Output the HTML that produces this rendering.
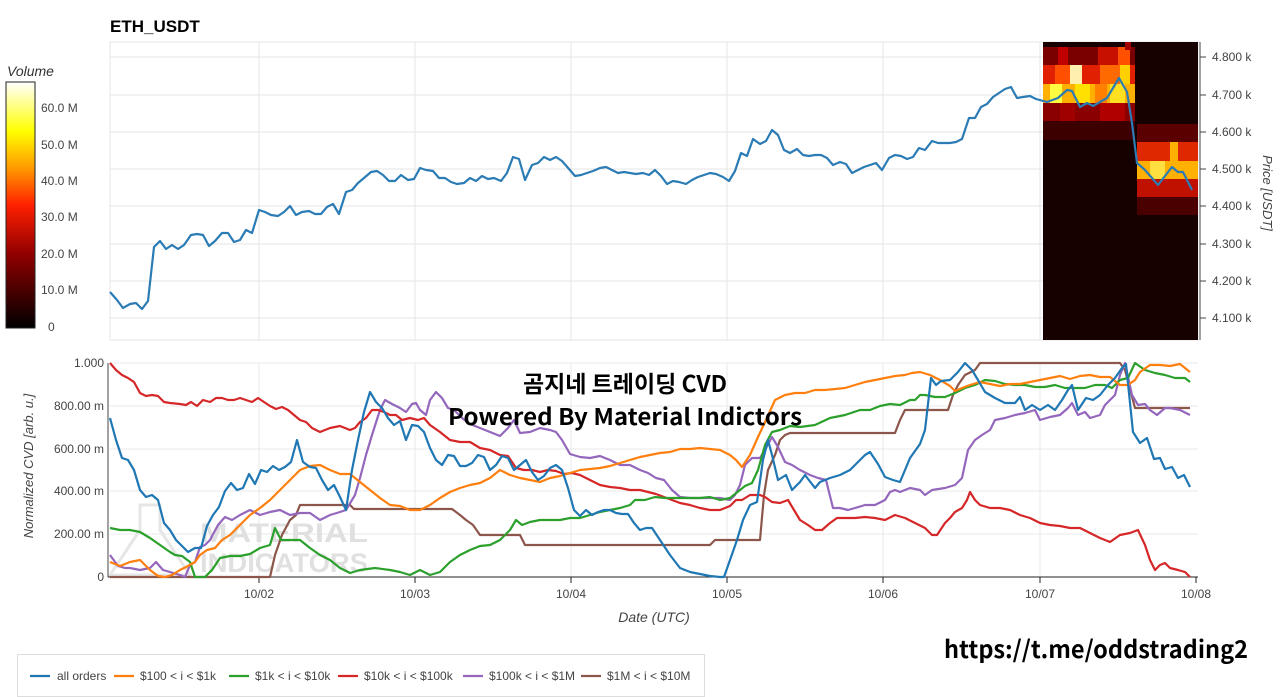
<!DOCTYPE html>
<html><head><meta charset="utf-8"><style>
html,body{margin:0;padding:0;background:#fff;}
svg{display:block;font-family:"Liberation Sans",Arial,sans-serif;}
</style></head><body>
<svg width="1280" height="697" viewBox="0 0 1280 697" xmlns="http://www.w3.org/2000/svg">
<defs>
<linearGradient id="cb" x1="0" y1="1" x2="0" y2="0">
<stop offset="0" stop-color="#000"/><stop offset="0.3" stop-color="#900000"/><stop offset="0.5" stop-color="#ff2000"/><stop offset="0.65" stop-color="#ff9a00"/><stop offset="0.8" stop-color="#ffff00"/><stop offset="1" stop-color="#ffffff"/>
</linearGradient>
</defs>
<text x="110" y="32" font-size="17" font-weight="bold">ETH_USDT</text>
<rect x="110" y="42" width="1088" height="298" fill="#fff" stroke="#e6e6e6"/>
<g stroke="#e6e6e6" stroke-width="1">
<line x1="110" y1="57" x2="1198" y2="57"/><line x1="110" y1="95" x2="1198" y2="95"/><line x1="110" y1="132" x2="1198" y2="132"/><line x1="110" y1="169" x2="1198" y2="169"/><line x1="110" y1="206" x2="1198" y2="206"/><line x1="110" y1="244" x2="1198" y2="244"/><line x1="110" y1="281" x2="1198" y2="281"/><line x1="110" y1="318" x2="1198" y2="318"/>
<line x1="259" y1="42" x2="259" y2="340"/><line x1="415" y1="42" x2="415" y2="340"/><line x1="571" y1="42" x2="571" y2="340"/><line x1="727" y1="42" x2="727" y2="340"/><line x1="883" y1="42" x2="883" y2="340"/><line x1="1040" y1="42" x2="1040" y2="340"/>
</g>
<rect x="1043" y="42" width="155" height="298" fill="#160000"/>
<rect x="1043" y="47" width="92" height="18" fill="#7a0000"/>
<rect x="1058" y="47" width="10" height="18" fill="#c00000"/><rect x="1098" y="47" width="20" height="18" fill="#c81000"/><rect x="1118" y="47" width="12" height="18" fill="#ff5000"/><rect x="1125" y="42" width="6" height="8" fill="#a00000"/>
<rect x="1043" y="65" width="92" height="19" fill="#e02000"/>
<rect x="1055" y="65" width="15" height="19" fill="#ff5000"/><rect x="1070" y="65" width="12" height="19" fill="#fff0b0"/><rect x="1100" y="65" width="20" height="19" fill="#ff6a00"/><rect x="1120" y="65" width="10" height="19" fill="#ffd000"/>
<rect x="1043" y="84" width="92" height="19" fill="#ffb000"/>
<rect x="1050" y="84" width="12" height="19" fill="#ffff40"/><rect x="1075" y="84" width="15" height="19" fill="#ffe000"/><rect x="1095" y="84" width="12" height="19" fill="#ff8000"/><rect x="1110" y="84" width="15" height="19" fill="#ffe020"/>
<rect x="1043" y="103" width="92" height="18" fill="#8a0000"/><rect x="1060" y="103" width="15" height="18" fill="#a00000"/><rect x="1100" y="103" width="25" height="18" fill="#b00000"/>
<rect x="1043" y="121" width="92" height="19" fill="#3c0000"/>
<rect x="1137" y="124" width="61" height="18" fill="#5a0000"/>
<rect x="1137" y="142" width="61" height="19" fill="#e02800"/><rect x="1170" y="142" width="8" height="19" fill="#ffb000"/>
<rect x="1137" y="161" width="61" height="18" fill="#ffb000"/><rect x="1150" y="161" width="15" height="18" fill="#ffe040"/>
<rect x="1137" y="179" width="61" height="18" fill="#c01000"/>
<rect x="1137" y="197" width="61" height="18" fill="#4a0000"/>
<polyline fill="none" stroke="#2b7bb4" stroke-width="2.2" stroke-linejoin="round" points="110,292 117,300 123,308 130,304 136,303 142,309 148,301 154,247 160,241 166,249 172,245 178,249 184,245 191,235 197,234 203,235 209,246 215,241 222,233 228,233 234,242 240,240 246,230 252,233 259,210 265,212 271,215 278,216 284,212 290,206 296,215 302,212 309,211 315,214 321,214 327,207 333,204 339,214 346,192 352,190 358,183 364,178 371,172 377,171 383,175 389,181 395,181 401,175 408,180 414,179 420,168 426,170 433,171 439,178 445,178 451,182 457,184 464,183 470,178 476,181 482,176 488,179 494,178 501,181 507,173 513,157 519,159 525,180 532,165 538,163 544,157 550,160 556,157 562,161 569,169 575,176 581,175 587,173 593,171 600,168 606,167 612,170 618,173 624,172 630,173 636,174 643,173 649,175 655,170 661,176 667,184 673,181 679,182 686,184 692,180 698,177 704,175 710,173 716,174 723,177 729,181 735,171 741,153 747,156 753,139 760,144 766,141 772,130 778,135 784,150 790,153 797,149 803,155 809,156 815,155 821,155 827,158 833,165 840,162 846,164 852,173 858,170 864,167 870,165 876,163 882,170 889,158 895,155 901,156 907,159 913,157 919,148 925,150 932,141 938,143 944,143 950,143 956,142 962,139 969,118 975,118 981,107 987,104 993,97 999,93 1005,89 1011,87 1017,98 1023,97 1030,96 1036,99 1047,102 1058,98 1067,90 1072,91 1080,107 1087,103 1093,106 1107,98 1119,78 1127,92 1132,123 1137,163 1145,170 1158,185 1172,167 1178,172 1183,172 1192,190"/>
<line x1="1200" y1="42" x2="1200" y2="340" stroke="#444"/>
<g font-size="12" fill="#444">
<text x="1212" y="61">4.800 k</text><text x="1212" y="99">4.700 k</text><text x="1212" y="136">4.600 k</text><text x="1212" y="173">4.500 k</text><text x="1212" y="210">4.400 k</text><text x="1212" y="248">4.300 k</text><text x="1212" y="285">4.200 k</text><text x="1212" y="322">4.100 k</text>
</g>
<g stroke="#444"><line x1="1200" y1="57" x2="1206" y2="57"/><line x1="1200" y1="95" x2="1206" y2="95"/><line x1="1200" y1="132" x2="1206" y2="132"/><line x1="1200" y1="169" x2="1206" y2="169"/><line x1="1200" y1="206" x2="1206" y2="206"/><line x1="1200" y1="244" x2="1206" y2="244"/><line x1="1200" y1="281" x2="1206" y2="281"/><line x1="1200" y1="318" x2="1206" y2="318"/></g>
<text transform="translate(1263,193) rotate(90)" font-size="13" font-style="italic" fill="#444" text-anchor="middle">Price [USDT]</text>
<text x="7" y="76" font-size="14" font-style="italic" fill="#333">Volume</text>
<rect x="6" y="82" width="29" height="246" fill="url(#cb)" stroke="#222"/>
<g font-size="12" fill="#444"><text x="41" y="112">60.0 M</text><text x="41" y="149">50.0 M</text><text x="41" y="185">40.0 M</text><text x="41" y="221">30.0 M</text><text x="41" y="258">20.0 M</text><text x="41" y="294">10.0 M</text><text x="48" y="331">0</text></g>
<g stroke="#e8e8e8"><line x1="110" y1="363" x2="1198" y2="363"/><line x1="110" y1="406" x2="1198" y2="406"/><line x1="110" y1="449" x2="1198" y2="449"/><line x1="110" y1="491" x2="1198" y2="491"/><line x1="110" y1="534" x2="1198" y2="534"/>
<line x1="259" y1="363" x2="259" y2="577"/><line x1="415" y1="363" x2="415" y2="577"/><line x1="571" y1="363" x2="571" y2="577"/><line x1="727" y1="363" x2="727" y2="577"/><line x1="883" y1="363" x2="883" y2="577"/><line x1="1040" y1="363" x2="1040" y2="577"/></g>
<text x="200" y="542" font-size="27" font-weight="bold" fill="#e0e0e0" textLength="168" lengthAdjust="spacingAndGlyphs">MATERIAL</text>
<text x="200" y="572" font-size="27" font-weight="bold" fill="#e0e0e0" textLength="168" lengthAdjust="spacingAndGlyphs">INDICATORS</text>
<path d="M140,505 L160,505 L160,530 L190,575 L110,575 L140,530 Z" fill="none" stroke="#e6e6e6" stroke-width="3"/>
<line x1="108" y1="577" x2="1198" y2="577" stroke="#222"/>
<line x1="108" y1="363" x2="108" y2="577" stroke="#444"/>
<g stroke="#222"><line x1="259" y1="577" x2="259" y2="583"/><line x1="415" y1="577" x2="415" y2="583"/><line x1="571" y1="577" x2="571" y2="583"/><line x1="727" y1="577" x2="727" y2="583"/><line x1="883" y1="577" x2="883" y2="583"/><line x1="1040" y1="577" x2="1040" y2="583"/><line x1="1196" y1="577" x2="1196" y2="583"/></g>
<g font-size="12" fill="#444" text-anchor="end"><text x="104" y="367">1.000</text><text x="104" y="410">800.00 m</text><text x="104" y="453">600.00 m</text><text x="104" y="495">400.00 m</text><text x="104" y="538">200.00 m</text><text x="104" y="581">0</text></g>
<g font-size="12" fill="#444" text-anchor="middle"><text x="259" y="598">10/02</text><text x="415" y="598">10/03</text><text x="571" y="598">10/04</text><text x="727" y="598">10/05</text><text x="883" y="598">10/06</text><text x="1040" y="598">10/07</text><text x="1196" y="598">10/08</text></g>
<text x="654" y="622" font-size="14" font-style="italic" fill="#444" text-anchor="middle">Date (UTC)</text>
<text transform="translate(33,466) rotate(-90)" font-size="13" font-style="italic" fill="#444" text-anchor="middle">Normalized CVD [arb. u.]</text>
<g fill="none" stroke-width="2.2" stroke-linejoin="round">
<polyline stroke="#8c564b" points="110,577 270,577 275,555 282,535 290,520 296,515 300,505 350,505 354,509 452,509 460,515 466,520 473,525 480,535 520,535 525,545 710,545 715,540 760,540 764,495 768,470 775,455 780,440 785,435 790,433 895,433 900,420 905,410 948,410 953,395 958,385 965,375 975,370 980,363 1120,363 1125,370 1135,408 1190,408"/>
<polyline stroke="#9467bd" points="110,555 118,566 125,568 130,568 140,570 150,568 156,562 163,570 170,572 180,575 185,577 190,565 195,562 200,547 205,545 210,540 218,525 225,517 232,520 240,515 250,510 260,515 270,512 280,510 290,515 300,513 310,513 320,520 330,515 340,512 346,510 355,495 360,478 366,455 372,435 380,410 385,400 392,404 400,408 406,412 412,404 416,403 420,410 426,415 430,400 436,392 442,398 448,408 454,410 462,418 470,424 480,428 490,432 500,436 508,428 514,420 520,433 530,432 540,428 550,430 556,432 562,440 570,454 580,457 590,458 600,456 610,460 620,465 630,465 640,470 648,473 656,478 664,480 672,490 680,497 690,498 700,498 710,498 720,498 730,500 735,495 740,485 745,465 752,458 760,458 766,448 772,437 778,447 785,462 792,465 800,470 810,475 818,478 826,480 833,508 840,508 848,510 855,508 865,505 875,505 885,500 890,492 895,490 900,492 910,488 920,490 925,495 932,490 945,488 955,485 962,478 968,450 975,440 982,435 990,430 995,420 1005,418 1015,415 1025,413 1035,410 1040,420 1050,417 1060,415 1068,408 1072,403 1078,415 1085,412 1090,418 1100,415 1105,405 1115,395 1120,375 1125,363 1132,395 1138,405 1145,404 1150,410 1157,415 1165,408 1170,408 1180,410 1190,415"/>
<polyline stroke="#d62728" points="110,363 116,370 122,375 128,378 134,382 140,393 146,396 152,395 158,396 164,402 170,403 180,404 186,405 191,402 197,406 203,400 210,402 216,398 222,398 228,400 234,400 240,398 246,400 252,402 258,398 264,402 270,406 276,409 282,407 288,410 294,415 300,420 306,422 312,428 320,432 330,428 340,426 345,428 350,430 355,428 360,422 366,418 372,410 378,410 384,412 390,415 396,415 402,420 410,418 418,420 424,418 430,425 440,432 450,440 460,442 470,442 480,448 490,450 500,455 508,456 516,468 524,470 532,470 540,472 548,470 556,471 564,474 572,473 580,475 590,480 600,485 610,487 620,488 630,490 640,490 648,492 656,494 664,497 672,500 680,503 690,505 700,508 710,510 720,510 730,506 736,500 742,500 750,495 760,495 765,497 772,502 780,503 788,500 794,510 800,520 808,525 815,530 822,530 830,523 837,518 846,518 855,518 865,517 875,518 885,520 895,515 905,518 915,523 925,528 932,535 937,535 945,523 950,518 955,512 962,508 967,500 970,492 975,500 980,505 990,508 1000,508 1010,510 1020,515 1030,518 1040,523 1050,525 1060,526 1070,528 1080,528 1090,533 1100,538 1110,542 1120,535 1130,533 1138,530 1145,545 1150,560 1155,570 1160,565 1165,563 1170,568 1178,570 1185,572 1190,577"/>
<polyline stroke="#2ca02c" points="110,528 120,530 130,530 140,532 150,538 160,545 170,552 175,555 182,556 190,562 195,577 205,577 212,570 220,558 230,556 240,556 250,554 260,548 270,545 275,528 281,540 290,540 300,540 310,548 320,555 330,560 340,568 350,573 360,570 375,568 390,570 400,572 410,575 420,570 430,575 440,572 450,562 460,555 470,550 480,546 490,545 500,540 510,530 516,520 522,525 530,522 540,520 550,520 560,520 570,518 580,518 590,515 600,512 610,510 620,508 630,505 635,500 645,500 655,497 665,498 675,498 690,498 700,498 710,497 720,500 730,498 740,490 745,486 752,483 758,470 765,445 772,432 780,430 790,426 800,427 815,425 830,418 845,415 860,410 870,410 880,406 890,404 900,405 910,400 915,400 920,395 925,395 935,397 945,397 955,393 965,388 975,385 985,380 995,381 1005,384 1015,385 1025,385 1035,387 1045,387 1055,385 1065,388 1075,388 1085,388 1095,385 1105,385 1112,388 1120,380 1128,378 1135,363 1145,370 1155,373 1165,375 1175,378 1185,378 1190,382"/>
<polyline stroke="#ff7f0e" points="110,562 120,566 130,562 140,560 150,570 158,576 165,577 172,575 180,570 188,566 195,562 200,555 207,550 215,548 222,540 230,535 240,525 250,515 260,508 270,500 280,490 290,480 300,470 310,466 320,465 330,470 340,474 350,474 360,482 370,490 380,498 390,505 400,506 410,510 420,510 430,505 440,498 450,492 460,488 470,485 480,483 490,478 500,470 510,475 520,478 530,480 540,482 550,478 560,476 570,473 580,470 590,469 600,468 610,466 620,463 630,460 640,457 650,455 660,453 670,452 680,449 690,449 700,448 710,449 720,450 730,455 736,460 742,467 750,455 758,437 766,420 775,400 785,395 795,393 805,393 815,390 825,390 835,389 845,388 855,385 865,382 875,380 885,378 895,376 905,375 912,373 920,372 930,375 940,380 950,386 955,391 962,388 970,385 980,382 990,384 1000,386 1010,384 1020,384 1030,382 1040,380 1050,378 1060,376 1070,379 1080,376 1090,375 1100,377 1110,377 1120,385 1128,385 1135,380 1140,372 1150,365 1160,365 1170,366 1180,364 1190,372"/>
<polyline stroke="#1f77b4" points="110,418 116,440 122,458 128,460 134,470 140,490 146,497 152,495 158,500 164,523 170,530 176,540 182,546 188,552 195,548 201,548 207,526 213,515 219,507 225,491 231,483 237,490 243,488 249,474 255,484 261,470 267,472 273,466 279,470 285,467 291,462 297,440 303,462 310,467 316,468 322,480 328,490 334,485 340,497 346,510 352,470 358,440 364,412 370,392 376,402 382,408 388,418 394,425 400,421 406,440 412,425 418,426 424,432 430,448 436,460 442,465 448,455 454,456 460,466 466,466 472,463 478,455 484,457 490,470 496,465 502,456 508,458 514,470 520,465 526,460 532,472 538,480 544,476 550,468 556,465 562,470 568,488 574,510 580,516 586,510 592,515 598,512 604,510 610,510 616,513 622,514 628,514 634,523 640,530 646,528 652,528 660,540 670,555 680,568 690,572 700,574 710,576 720,577 724,577 730,560 737,540 743,520 750,505 757,502 763,460 768,440 772,455 778,480 786,475 792,490 800,482 805,475 815,488 820,482 830,478 840,475 850,470 860,460 865,455 870,452 878,464 885,477 893,480 900,482 905,470 910,458 920,444 925,430 931,378 936,385 941,381 950,380 958,372 965,363 972,370 978,380 985,392 995,398 1005,403 1015,403 1020,397 1025,410 1032,405 1040,410 1048,405 1055,410 1062,400 1068,390 1072,385 1078,410 1086,398 1093,400 1100,395 1108,385 1115,378 1122,368 1126,364 1133,432 1140,443 1147,438 1154,459 1160,458 1165,469 1172,467 1178,478 1184,475 1190,487"/>
</g>
<text x="625" y="392" font-size="23" font-weight="bold" text-anchor="middle" font-family="'Noto Sans CJK KR',sans-serif">곰지네 트레이딩 CVD</text>
<text x="625" y="425" font-size="23" font-weight="bold" text-anchor="middle" font-family="'Noto Sans CJK KR',sans-serif" textLength="354" lengthAdjust="spacingAndGlyphs">Powered By Material Indictors</text>
<text x="1248" y="658" font-size="24" font-weight="bold" text-anchor="end" font-family="'Noto Sans CJK KR',sans-serif" textLength="304" lengthAdjust="spacingAndGlyphs">https://t.me/oddstrading2</text>
<rect x="17.5" y="654.5" width="687" height="42" fill="#fff" stroke="#ddd"/>
<g stroke-width="2.2">
<line x1="30" y1="676" x2="50" y2="676" stroke="#1f77b4"/><line x1="114" y1="676" x2="134" y2="676" stroke="#ff7f0e"/><line x1="229" y1="676" x2="249" y2="676" stroke="#2ca02c"/><line x1="338" y1="676" x2="358" y2="676" stroke="#d62728"/><line x1="463" y1="676" x2="483" y2="676" stroke="#9467bd"/><line x1="581" y1="676" x2="601" y2="676" stroke="#8c564b"/>
</g>
<g font-size="12" fill="#444"><text x="57" y="680">all orders</text><text x="140" y="680">$100 &lt; i &lt; $1k</text><text x="255" y="680">$1k &lt; i &lt; $10k</text><text x="364" y="680">$10k &lt; i &lt; $100k</text><text x="489" y="680">$100k &lt; i &lt; $1M</text><text x="607" y="680">$1M &lt; i &lt; $10M</text></g>
</svg>
</body></html>
